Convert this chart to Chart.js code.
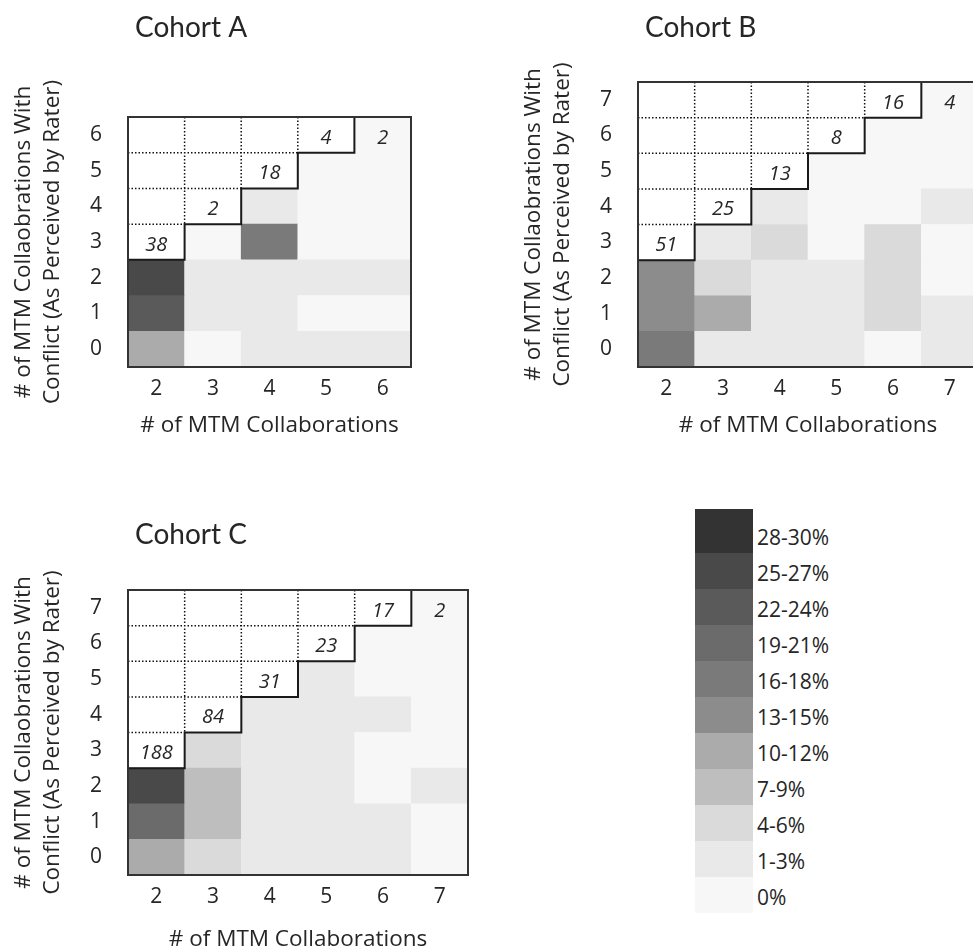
<!DOCTYPE html>
<html>
<head>
<meta charset="utf-8">
<script src="https://cdn.jsdelivr.net/npm/chart.js@4/dist/chart.umd.min.js"></script>
<style>
    body { margin: 0; background: #fff; overflow: hidden; width: 973px; height: 951px; position: relative; }
    canvas { position: absolute; }
    #legend { position: absolute; left: 695px; top: 509px; font-family: "Open Sans", sans-serif; font-size: 21px; color: #262626; }
    #legend .sw { width: 58px; height: 36px; }
    #legend .lb { position: absolute; left: 62px; line-height: 22px; white-space: nowrap; }
</style>
</head>
<body>
<canvas id="chartA" width="440" height="445" style="left:0;top:0"></canvas>
<canvas id="chartB" width="470" height="445" style="left:510px;top:0"></canvas>
<canvas id="chartC" width="480" height="510" style="left:0;top:450px"></canvas>
<div id="legend"></div>
<script>
//shading key, darkest first like the printed key
var binLabels = ['28-30%', '25-27%', '22-24%', '19-21%', '16-18%', '13-15%', '10-12%', '7-9%', '4-6%', '1-3%', '0%'];
var binColors = ['#333333', '#494949', '#5a5a5a', '#6b6b6b', '#7a7a7a', '#8c8c8c', '#ababab', '#bebebe', '#dadada', '#e9e9e9', '#f7f7f7'];

//Cohort A
var colsA = ['2', '3', '4', '5', '6'];
var rowsA = [0, 1, 2, 3, 4, 5, 6];
var countsA = [38, 2, 18, 4, 2];
//% per cell, one list per column, from 0 conflicts upwards
var pctA = [
    [11, 23, 26],
    [0, 2, 2, 0],
    [2, 2, 2, 17, 2],
    [2, 0, 2, 0, 0, 0],
    [2, 0, 2, 0, 0, 0, 0]
];

//Cohort B
var colsB = ['2', '3', '4', '5', '6', '7'];
var rowsB = [0, 1, 2, 3, 4, 5, 6, 7];
var countsB = [51, 25, 13, 8, 16, 4];
var pctB = [
    [17, 14, 14],
    [2, 11, 5, 2],
    [2, 2, 2, 5, 2],
    [2, 2, 2, 0, 0, 0],
    [0, 5, 5, 5, 0, 0, 0],
    [2, 2, 0, 0, 2, 0, 0, 0]
];

//Cohort C
var colsC = ['2', '3', '4', '5', '6', '7'];
var rowsC = [0, 1, 2, 3, 4, 5, 6, 7];
var countsC = [188, 84, 31, 23, 17, 2];
var pctC = [
    [11, 20, 26],
    [5, 8, 8, 5],
    [2, 2, 2, 2, 2],
    [2, 2, 2, 2, 2, 2],
    [2, 2, 0, 0, 2, 0, 0],
    [0, 0, 2, 0, 0, 0, 0, 0]
];

var FONT = '"Open Sans", sans-serif';
var TEXT = '#262626';

window.onload = main;

function main() {
    makeChart('chartA', 'Cohort A', colsA, rowsA, pctA, countsA, {top: 117, right: 29, xh: 78, titleY: 28, xPad: 9, xTitlePad: 6});
    makeChart('chartB', 'Cohort B', colsB, rowsB, pctB, countsB, {top: 82, right: 2, xh: 78, titleY: 28, xPad: 9, xTitlePad: 6});
    makeChart('chartC', 'Cohort C', colsC, rowsC, pctC, countsC, {top: 140, right: 12, xh: 85, titleY: 85, xPad: 9, xTitlePad: 7});
    drawKey();
}

//percent -> shade of the key
function shade(p) {
    if (p <= 0) return binColors[10];
    return binColors[10 - Math.ceil(p / 3)];
}

//staircase, dotted corner grid, counts and title
function stairs(title, cols, counts, maxRow, titleY) {
    return {
        id: 'stairs',
        afterDatasetsDraw: function (chart) {
            var ctx = chart.ctx, a = chart.chartArea, xs = chart.scales.x, ys = chart.scales.y;
            var half = (xs.getPixelForValue(1) - xs.getPixelForValue(0)) / 2;
            var c0 = +cols[0];
            var topV = maxRow + 0.5;
            var top = ys.getPixelForValue(topV);
            var right = function (i) { return xs.getPixelForValue(i) + half; };
            var left = function (i) { return xs.getPixelForValue(i) - half; };
            var i;
            ctx.save();

            //dotted lines
            ctx.setLineDash([1.5, 2]);
            ctx.lineWidth = 1.5;
            ctx.strokeStyle = '#111';
            ctx.beginPath();
            for (i = 0; i < cols.length - 1; i++) {
                var yb = +cols[i + 1] + 0.5;
                if (yb < topV) {
                    ctx.moveTo(right(i), top);
                    ctx.lineTo(right(i), ys.getPixelForValue(yb));
                }
            }
            for (var k = c0 + 1; k < maxRow; k++) {
                var yy = ys.getPixelForValue(k + 0.5);
                ctx.moveTo(a.left, yy);
                ctx.lineTo(right(k - 1 - c0), yy);
            }
            ctx.stroke();

            //staircase
            ctx.setLineDash([]);
            ctx.lineWidth = 2;
            ctx.strokeStyle = '#1a1a1a';
            ctx.beginPath();
            ctx.moveTo(a.left, ys.getPixelForValue(c0 + 0.5));
            for (i = 0; i < cols.length; i++) {
                var yv = Math.min(+cols[i] + 0.5, topV);
                ctx.lineTo(left(i), ys.getPixelForValue(yv));
                if (yv >= topV) break;
                ctx.lineTo(right(i), ys.getPixelForValue(yv));
            }
            ctx.stroke();

            //frame
            ctx.strokeStyle = '#333';
            ctx.strokeRect(a.left, a.top, a.right - a.left, a.bottom - a.top);

            //counts
            ctx.fillStyle = TEXT;
            ctx.font = 'italic 20px ' + FONT;
            ctx.textAlign = 'center';
            ctx.textBaseline = 'middle';
            for (i = 0; i < cols.length; i++) {
                var row = Math.min(+cols[i] + 1, maxRow);
                ctx.fillText(counts[i], xs.getPixelForValue(i), ys.getPixelForValue(row) + 3);
            }

            //title
            ctx.font = '28px Lato, sans-serif';
            ctx.textAlign = 'left';
            ctx.fillText(title, a.left + 7, titleY);
            ctx.restore();
        }
    };
}

function makeChart(id, title, cols, rows, pct, counts, box) {
    var maxRow = rows[rows.length - 1];
    var datasets = [];
    rows.forEach(function (r) {
        datasets.push({
            data: cols.map(function (c, i) { return r < pct[i].length ? [r - 0.5, r + 0.5] : null; }),
            backgroundColor: cols.map(function (c, i) { return r < pct[i].length ? shade(pct[i][r]) : 'rgba(0,0,0,0)'; }),
            grouped: false,
            barPercentage: 1,
            categoryPercentage: 1,
            borderWidth: 0
        });
    });
    new Chart(document.getElementById(id).getContext('2d'), {
        type: 'bar',
        data: {labels: cols, datasets: datasets},
        options: {
            responsive: false,
            animation: false,
            layout: {padding: {top: box.top, right: box.right, left: 0, bottom: 0}},
            plugins: {legend: {display: false}, tooltip: {enabled: false}},
            scales: {
                x: {
                    grid: {display: false, drawTicks: false},
                    border: {display: false},
                    ticks: {color: TEXT, font: {family: FONT, size: 21}, padding: box.xPad},
                    title: {display: true, text: '# of MTM Collaborations', color: TEXT,
                        font: {family: FONT, size: 22.5, lineHeight: 1.2}, padding: {top: 0, bottom: box.xTitlePad}},
                    afterFit: function (s) { s.height = box.xh; }
                },
                y: {
                    min: rows[0] - 0.5,
                    max: maxRow + 0.5,
                    grid: {display: false, drawTicks: false},
                    border: {display: false},
                    ticks: {color: TEXT, font: {family: FONT, size: 21}, padding: 26},
                    afterBuildTicks: function (s) { s.ticks = rows.map(function (v) { return {value: v}; }); },
                    title: {display: true, text: ['# of MTM Collaobrations With', 'Conflict (As Perceived by Rater)'], color: TEXT,
                        font: {family: FONT, size: 22.5, lineHeight: 1.3}, padding: {top: 9, bottom: 0}},
                    afterFit: function (s) { s.width = 128; }
                }
            }
        },
        plugins: [stairs(title, cols, counts, maxRow, box.titleY)]
    });
}

//shading key built from the bins
function drawKey() {
    var key = document.getElementById('legend');
    for (var i = 0; i < binLabels.length; i++) {
        var sw = document.createElement('div');
        sw.className = 'sw';
        sw.style.background = binColors[i];
        if (i === 0) sw.style.height = '44px';
        key.appendChild(sw);
        var lb = document.createElement('div');
        lb.className = 'lb';
        lb.textContent = binLabels[i];
        lb.style.top = (17 + 36 * i) + 'px';
        key.appendChild(lb);
    }
}
</script>
</body>
</html>
